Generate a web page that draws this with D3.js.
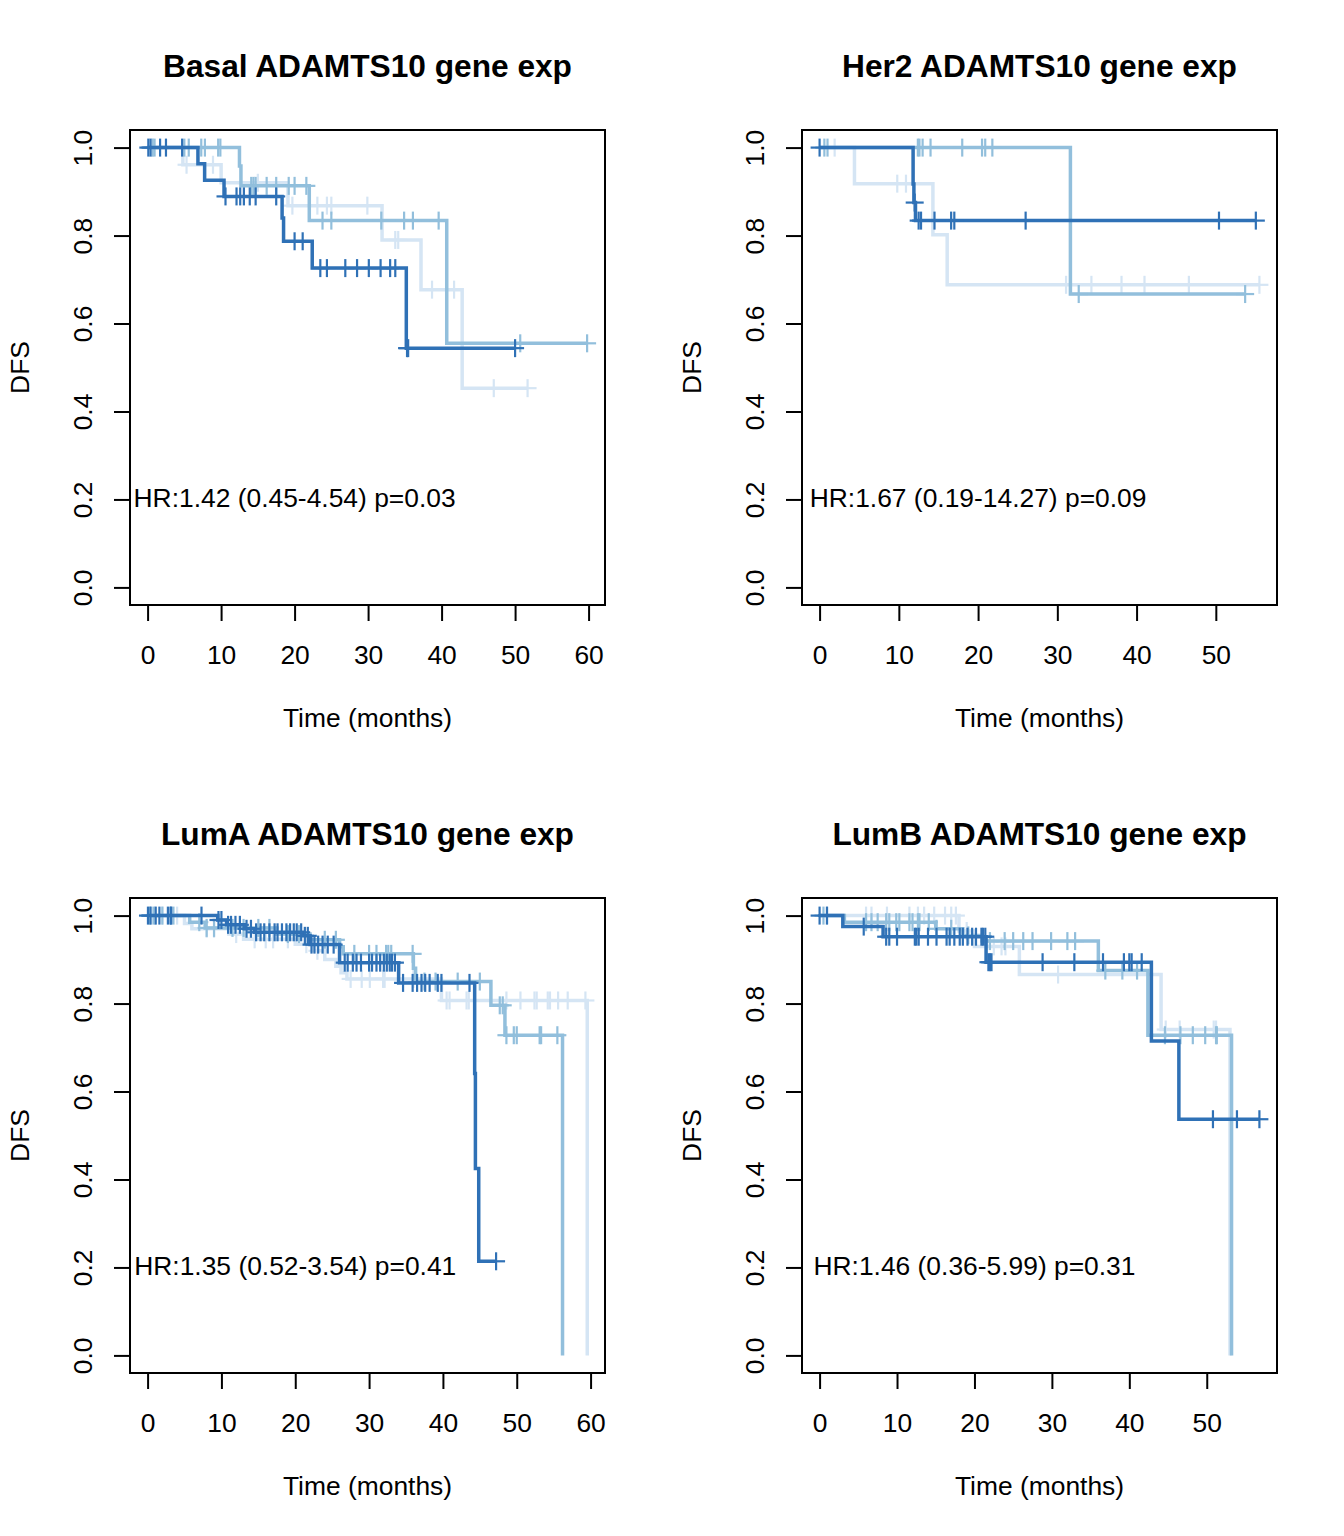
<!DOCTYPE html>
<html>
<head>
<meta charset="utf-8">
<script src="https://cdn.jsdelivr.net/npm/d3@7"></script>
<style>
  html, body { margin: 0; padding: 0; background: #fff; }
  svg { display: block; }
  text { font-family: "Liberation Sans", Arial, Helvetica, sans-serif; fill: #000; }
</style>
</head>
<body>
<svg id="chart" width="1344" height="1536"></svg>
<script>
// ---------------- DATA ----------------
const panelTitles = ["Basal ADAMTS10 gene exp", "Her2 ADAMTS10 gene exp", "LumA ADAMTS10 gene exp", "LumB ADAMTS10 gene exp"];
const hrLabels = ["HR:1.42 (0.45-4.54) p=0.03", "HR:1.67 (0.19-14.27) p=0.09", "HR:1.35 (0.52-3.54) p=0.41", "HR:1.46 (0.36-5.99) p=0.31"];
const xMaxData = [59.84, 55.5, 59.57, 56.8];
const xTickValues = [[0,10,20,30,40,50,60],[0,10,20,30,40,50],[0,10,20,30,40,50,60],[0,10,20,30,40,50]];
const yTickValues = [0, 0.2, 0.4, 0.6, 0.8, 1.0];
const xAxisTitle = "Time (months)";
const yAxisTitle = "DFS";

// Basal: steps = [time, survival after drop]; censor = times
const basalLightSteps = [[4.8,0.961],[10.0,0.92],[19.1,0.868],[31.9,0.790],[37.2,0.677],[42.8,0.453]];
const basalLightCensor = [0.6, 5.3, 8.9, 15.0, 19.7, 23.1, 24.4, 25.0, 29.9, 33.7, 34.1, 38.7, 41.7, 47.1, 51.7];
const basalMidSteps = [[12.5,0.958],[12.7,0.913],[22.0,0.834],[40.7,0.555]];
const basalMidCensor = [0.7, 0.95, 5.0, 5.6, 7.3, 7.8, 9.6, 9.9, 14.1, 14.4, 14.7, 16.2, 17.5, 19.2, 20.0, 21.6, 23.8, 25.0, 31.8, 34.9, 36.1, 39.6, 50.7, 59.8];
const basalDarkSteps = [[6.85,0.963],[7.76,0.926],[10.4,0.889],[18.3,0.840],[18.5,0.787],[22.4,0.726],[35.2,0.544]];
const basalDarkCensor = [0.1, 0.4, 1.7, 2.5, 4.7, 10.6, 12.1, 12.6, 13.1, 13.9, 14.7, 17.5, 20.0, 21.1, 23.5, 24.4, 26.9, 28.5, 30.1, 31.7, 33.0, 33.7, 35.3, 35.45, 50.0];

// Her2
const her2LightSteps = [[4.4,0.918],[14.3,0.802],[16.1,0.688]];
const her2LightCensor = [1.9, 9.8, 10.9, 31.1, 34.3, 38.1, 41.0, 46.6, 55.5];
const her2MidSteps = [[31.65,0.667]];
const her2MidCensor = [0.6, 1.0, 12.4, 12.6, 13.0, 14.0, 18.0, 20.5, 20.9, 21.8, 32.7, 53.7];
const her2DarkSteps = [[11.8,0.917],[11.9,0.875],[12.1,0.834]];
const her2DarkCensor = [0.0, 12.0, 12.5, 12.8, 14.5, 16.6, 17.0, 26.0, 50.4, 55.05];

// LumA
const lumaLightSteps = [[5.0,0.982],[6.0,0.970],[11.0,0.958],[13.0,0.946],[20.0,0.935],[22.5,0.920],[24.0,0.900],[25.5,0.885],[26.2,0.870],[27.0,0.856],[39.8,0.807],[59.55,0]];
const lumaLightCensor = [0.5, 1.0, 2.0, 4.0, 8.0, 9.0, 12.0, 14.5, 16.0, 17.0, 19.0, 21.5, 23.0, 27.5, 29.0, 30.1, 31.9, 32.1, 36.0, 40.5, 40.9, 43.2, 43.5, 48.6, 50.5, 52.4, 52.7, 54.2, 54.5, 55.6, 56.9, 59.3];
const lumaMidSteps = [[5.7,0.985],[7.8,0.972],[17.5,0.958],[22.0,0.945],[26.0,0.929],[26.5,0.913],[36.0,0.880],[36.3,0.850],[46.5,0.796],[48.4,0.728],[56.2,0]];
const lumaMidCensor = [0.3, 0.8, 2.0, 3.5, 7.0, 8.0, 9.0, 11.5, 13.0, 15.0, 16.5, 19.0, 20.5, 24.0, 25.5, 28.0, 30.0, 31.0, 32.3, 32.6, 33.0, 35.9, 37.5, 39.0, 42.0, 45.0, 47.7, 48.1, 48.6, 49.6, 50.0, 53.1, 53.3, 55.5];
const lumaDarkSteps = [[9.5,0.990],[10.7,0.979],[13.1,0.970],[14.5,0.962],[21.0,0.954],[22.0,0.934],[26.0,0.893],[34.0,0.847],[44.3,0.641],[44.4,0.425],[44.85,0.214]];
const lumaDarkCensor = [0.05, 0.4, 1.1, 1.6, 2.75, 3.1, 3.2, 7.3, 9.6, 10.0, 10.9, 11.3, 11.9, 12.5, 13.4, 14.0, 14.7, 15.3, 15.8, 16.5, 17.2, 17.6, 18.2, 18.8, 19.3, 19.8, 20.2, 20.8, 21.3, 21.7, 22.2, 22.6, 23.1, 23.7, 24.4, 25.2, 26.7, 27.1, 27.8, 28.3, 28.9, 30.0, 30.4, 31.0, 31.5, 32.0, 32.4, 32.8, 33.1, 33.5, 34.6, 35.9, 36.5, 37.1, 37.6, 38.2, 39.3, 39.8, 43.6, 47.2];

// LumB
const lumbLightSteps = [[18.0,0.965],[20.0,0.930],[25.8,0.866],[44.1,0.741],[53.0,0]];
const lumbLightCensor = [1.0, 6.0, 6.7, 8.7, 11.6, 12.7, 13.5, 14.8, 16.2, 17.0, 17.6, 19.0, 22.5, 23.5, 24.0, 30.8, 44.7, 46.5, 50.9, 51.2];
const lumbMidSteps = [[3.2,0.985],[15.0,0.970],[18.5,0.955],[21.0,0.942],[36.0,0.875],[42.4,0.728],[53.2,0]];
const lumbMidCensor = [0.5, 6.0, 6.7, 7.5, 8.6, 9.0, 9.9, 10.3, 11.6, 12.0, 12.7, 12.9, 14.1, 15.1, 17.0, 19.2, 22.0, 23.9, 25.0, 26.3, 27.5, 29.9, 32.0, 33.0, 36.9, 39.1, 41.0, 44.6, 46.6, 48.2, 49.8, 51.2, 51.3];
const lumbDarkSteps = [[3.0,0.975],[8.2,0.952],[21.5,0.894],[42.85,0.715],[46.4,0.537]];
const lumbDarkCensor = [0.0, 0.95, 5.7, 8.6, 9.0, 10.0, 12.3, 12.5, 12.8, 14.0, 15.1, 16.4, 16.8, 17.4, 18.1, 18.5, 19.1, 19.7, 20.2, 20.9, 21.1, 21.4, 21.8, 22.0, 22.2, 28.8, 32.9, 36.6, 39.3, 40.0, 40.3, 41.6, 50.8, 53.9, 56.8];

const groupColors = ["#d5e5f4", "#92bfdc", "#2f71b6"]; // light, mid, dark

const panelCurves = [
  [[basalLightSteps, basalLightCensor], [basalMidSteps, basalMidCensor], [basalDarkSteps, basalDarkCensor]],
  [[her2LightSteps, her2LightCensor], [her2MidSteps, her2MidCensor], [her2DarkSteps, her2DarkCensor]],
  [[lumaLightSteps, lumaLightCensor], [lumaMidSteps, lumaMidCensor], [lumaDarkSteps, lumaDarkCensor]],
  [[lumbLightSteps, lumbLightCensor], [lumbMidSteps, lumbMidCensor], [lumbDarkSteps, lumbDarkCensor]]
];

// ---------------- LAYOUT ----------------
const cellW = 672, cellH = 768;
const box = {l: 130, t: 130, r: 605, b: 605};
const fontBase = 26.4;
const tickLen = 16;
const markHalf = 9;

const svg = d3.select("#chart");
svg.append("rect").attr("width", 1344).attr("height", 1536).attr("fill", "#fff");

function survAt(steps, t) {
  let s = 1;
  for (const [st, sv] of steps) { if (st <= t) s = sv; }
  return s;
}

panelTitles.forEach((title, i) => {
  const col = i % 2, row = Math.floor(i / 2);
  const g = svg.append("g").attr("transform", `translate(${col * cellW},${row * cellH})`);
  const R = xMaxData[i];
  const x = d3.scaleLinear().domain([-0.04 * R, 1.04 * R]).range([box.l, box.r]);
  const y = d3.scaleLinear().domain([-0.04, 1.04]).range([box.b, box.t]);

  // curves
  const line = d3.line().x(d => x(d[0])).y(d => y(d[1])).curve(d3.curveStepAfter);
  panelCurves[i].forEach(([steps, cens], gi) => {
    const color = groupColors[gi];
    const last = steps[steps.length - 1];
    const tEnd = Math.max(last[0], d3.max(cens));
    const pts = [[0, 1], ...steps, [tEnd, survAt(steps, tEnd)]];
    g.append("path").attr("d", line(pts)).attr("fill", "none")
      .attr("stroke", color).attr("stroke-width", 3.5).attr("stroke-linejoin", "miter").attr("stroke-linecap", "butt");
    const mk = g.append("g").attr("stroke", color).attr("stroke-width", 2.2);
    cens.forEach(t => {
      const cx = x(t), cy = y(survAt(steps, t));
      mk.append("line").attr("x1", cx).attr("x2", cx).attr("y1", cy - markHalf).attr("y2", cy + markHalf);
      mk.append("line").attr("x1", cx - markHalf).attr("x2", cx + markHalf).attr("y1", cy).attr("y2", cy);
    });
  });

  // box
  g.append("rect").attr("x", box.l).attr("y", box.t).attr("width", box.r - box.l).attr("height", box.b - box.t)
    .attr("fill", "none").attr("stroke", "#000").attr("stroke-width", 2);

  // x axis
  const xa = g.append("g").attr("transform", `translate(0,${box.b})`)
    .call(d3.axisBottom(x).tickValues(xTickValues[i]).tickSize(tickLen).tickSizeOuter(0).tickPadding(0).tickFormat(d3.format("d")));
  xa.select(".domain").attr("d", `M${x(xTickValues[i][0])},0H${x(xTickValues[i][xTickValues[i].length - 1])}`).attr("stroke-width", 2);
  xa.selectAll(".tick line").attr("stroke-width", 2);
  xa.selectAll(".tick text").attr("font-size", fontBase).attr("font-family", "Liberation Sans, Arial, sans-serif")
    .attr("y", 58.5).attr("dy", 0);

  // y axis
  const ya = g.append("g").attr("transform", `translate(${box.l},0)`)
    .call(d3.axisLeft(y).tickValues(yTickValues).tickSize(tickLen).tickSizeOuter(0).tickFormat(d3.format(".1f")));
  ya.select(".domain").attr("d", `M0,${y(0)}V${y(1)}`).attr("stroke-width", 2);
  ya.selectAll(".tick line").attr("stroke-width", 2);
  ya.selectAll(".tick text").attr("font-size", fontBase).attr("font-family", "Liberation Sans, Arial, sans-serif")
    .attr("x", null).attr("dy", null).attr("text-anchor", "middle")
    .attr("transform", `translate(${91.5 - box.l},0) rotate(-90)`);

  // titles
  g.append("text").attr("x", (box.l + box.r) / 2).attr("y", 76.5).attr("text-anchor", "middle")
    .attr("font-size", fontBase * 1.2).attr("font-weight", "bold").text(title);
  g.append("text").attr("x", (box.l + box.r) / 2).attr("y", 726.5).attr("text-anchor", "middle")
    .attr("font-size", fontBase).text(xAxisTitle);
  g.append("text").attr("transform", `translate(28.5,${(box.t + box.b) / 2}) rotate(-90)`).attr("text-anchor", "middle")
    .attr("font-size", fontBase).text(yAxisTitle);
  g.append("text").attr("x", x(20)).attr("y", y(0.2) + 8).attr("text-anchor", "middle")
    .attr("font-size", fontBase).text(hrLabels[i]);
});
</script>
</body>
</html>
